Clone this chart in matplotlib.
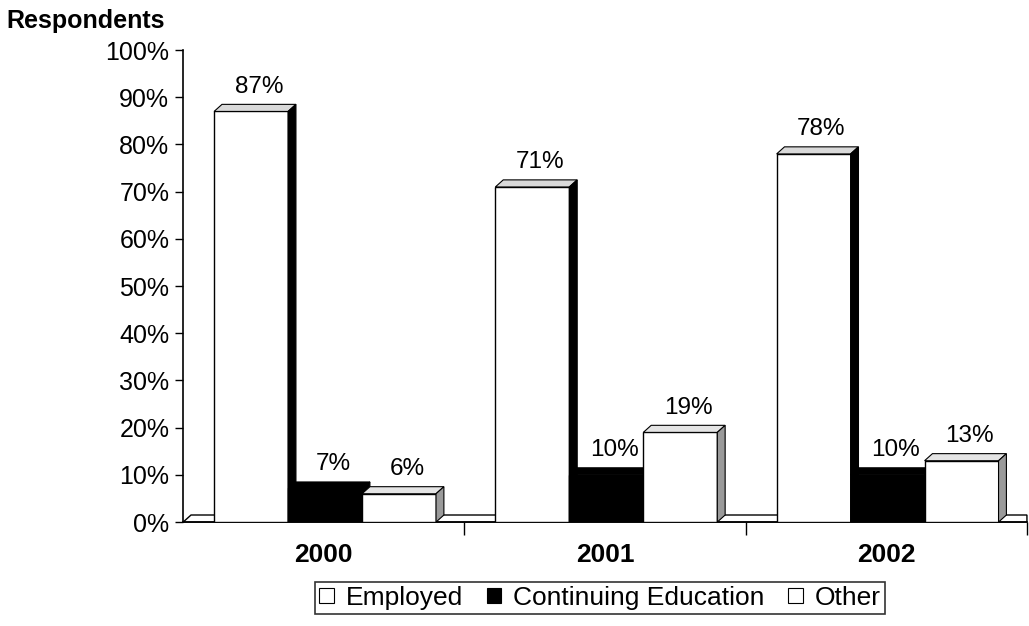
import matplotlib.pyplot as plt
from matplotlib.patches import Patch

plt.rcParams['font.family'] = ['Liberation Sans', 'DejaVu Sans']

years = ['2000', '2001', '2002']
series = ['Employed', 'Continuing Education', 'Other']
employed = [87, 71, 78]
continuing = [7, 10, 10]
other = [6, 19, 13]
yticks = list(range(0, 101, 10))

values = [employed, continuing, other]
front = ['white', 'black', 'white']
top = ['#d9d9d9', 'black', '#e4e4e4']
side = ['black', 'black', '#9a9a9a']

fig = plt.figure(figsize=(10.29, 6.26), dpi=100)
ax = fig.add_axes([0.178, 0.166, 0.820, 0.754])
ax.set_xlim(0, 3)
ax.set_ylim(0, 100)

# pseudo 3d depth in data units
dx, dy = 0.028, 1.5
width = 0.263
offset = 0.110

# floor
ax.fill([0, dx, 3, 3], [0, dy, dy, 0], facecolor='white', edgecolor='black',
        linewidth=1, zorder=1, clip_on=False)

for s in range(3):
    xs = [i + offset + s * width for i in range(3)]
    ax.bar(xs, values[s], width=width, align='edge', color=front[s],
           edgecolor='black', linewidth=1, zorder=3)
    for x, v in zip(xs, values[s]):
        ax.fill([x, x + dx, x + width + dx, x + width], [v, v + dy, v + dy, v],
                facecolor=top[s], edgecolor='black', linewidth=0.8, zorder=3)
        ax.fill([x + width, x + width + dx, x + width + dx, x + width],
                [0, dy, v + dy, v], facecolor=side[s], edgecolor='black',
                linewidth=0.8, zorder=3)
        ax.text(x + width / 2 + dx, v + dy + 1.4, f'{v}%', ha='center',
                va='bottom', fontsize=17.5)

ax.set_yticks(yticks)
ax.set_yticklabels([f'{t}%' for t in yticks], fontsize=18)
ax.tick_params(axis='y', direction='out', length=6, width=1, pad=4)

ax.set_xticks([1, 2, 3])
ax.set_xticklabels([])
ax.set_xticks([i + 0.5 for i in range(3)], minor=True)
ax.set_xticklabels(years, minor=True, fontsize=19, fontweight='bold')
ax.tick_params(axis='x', which='major', direction='out', length=9, width=1)
ax.tick_params(axis='x', which='minor', length=0, pad=15)

for sp in ['top', 'right']:
    ax.spines[sp].set_visible(False)
ax.spines['left'].set_linewidth(1.2)
ax.spines['bottom'].set_linewidth(1.2)

fig.text(0.006, 0.985, 'Respondents', ha='left', va='top', fontsize=18,
         fontweight='bold')

handles = [Patch(facecolor=c, edgecolor='black', linewidth=0.8) for c in front]
leg = fig.legend(handles, series, loc='center', ncol=3,
                 bbox_to_anchor=(0.583, 0.045), frameon=True, fancybox=False,
                 edgecolor='black', fontsize=19, handlelength=0.55,
                 handleheight=0.55, handletextpad=0.45, columnspacing=0.9,
                 borderpad=0.15, borderaxespad=0)
leg.get_frame().set_linewidth(1.2)

fig.savefig('out.png', dpi=100)
